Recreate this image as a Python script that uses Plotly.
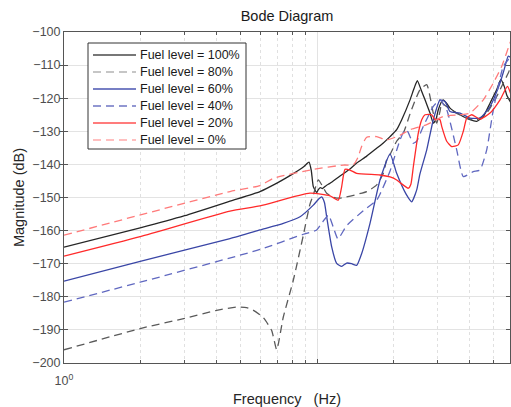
import plotly.graph_objects as go

# ---- data (frequency in Hz, magnitude in dB) ----
labels = ["Fuel level = 100%", "Fuel level = 80%", "Fuel level = 60%",
          "Fuel level = 40%", "Fuel level = 20%", "Fuel level = 0%"]

f100 = [1.0, 2.0, 3.0, 4.53, 5.95, 7.0, 8.06, 8.83, 9.30, 9.5, 9.67, 9.97, 10.12, 10.3,
        10.5, 10.92, 11.26, 12.33, 13.5, 14.35, 15.72, 17.22, 18.29, 19.44, 20.65, 21.62,
        23.32, 24.2, 24.92, 25.8, 26.73, 27.97, 28.82, 29.5, 30.16, 31.11, 31.57, 32.5,
        33.55, 36.75, 40.25, 42.77, 45.43, 48.29, 51.33, 53.3, 55.0, 56.21, 58.5]
m100 = [-165.0, -159.2, -155.5, -151.1, -148.2, -145.5, -142.8, -140.8, -139.3, -142.0,
        -146.7, -148.5, -147.6, -147.0, -147.3, -146.3, -145.7, -143.5, -141.4, -139.6,
        -137.5, -135.1, -133.5, -131.6, -129.5, -126.5, -120.5, -117.0, -114.7, -117.5,
        -120.5, -124.5, -127.5, -126.5, -123.5, -121.0, -120.5, -121.5, -123.0, -125.0,
        -126.5, -127.0, -125.5, -121.5, -117.4, -114.3, -116.5, -119.0, -121.5]

f80 = [1.0, 2.0, 3.0, 4.01, 4.82, 5.27, 5.58, 6.14, 6.62, 6.93, 7.36, 8.06, 8.83, 9.38,
       9.67, 10.12, 10.5, 10.92, 11.6, 12.33, 15.72, 17.22, 18.29, 18.86, 19.44, 20.65,
       21.94, 23.5, 25.54, 27.15, 27.97, 28.82, 29.72, 30.63, 31.11, 32.5, 34.57, 39.06,
       42.77, 46.86, 51.33, 54.5, 57.03, 58.5]
m80 = [-196.0, -189.6, -186.5, -184.1, -183.1, -183.3, -184.0, -186.3, -190.2, -196.0,
       -186.1, -175.0, -161.4, -152.0, -149.2, -144.7, -146.5, -148.7, -149.9, -150.2,
       -148.2, -146.2, -142.7, -138.6, -137.0, -133.0, -130.5, -124.0, -117.4, -115.9,
       -119.5, -124.5, -127.5, -124.0, -121.5, -122.5, -124.0, -126.0, -126.5, -124.5,
       -119.5, -115.4, -112.4, -110.0]

f60 = [1.0, 2.0, 4.53, 5.95, 7.36, 8.57, 9.67, 10.2, 10.43, 10.7, 10.92, 11.43, 11.96,
       12.52, 13.1, 13.7, 14.35, 15.02, 16.2, 17.74, 19.44, 20.65, 22.5, 23.68, 24.78,
       25.5, 27.15, 28.82, 30.63, 32.06, 33.55, 36.75, 40.25, 44.08, 48.29, 52.9, 54.84,
       57.03, 58.5]
m60 = [-175.3, -169.3, -162.4, -159.8, -157.8, -155.8, -152.3, -150.3, -149.8, -151.5,
       -155.8, -164.9, -169.9, -170.8, -169.8, -170.0, -170.5, -166.9, -157.8, -144.7,
       -136.8, -142.7, -149.0, -151.3, -147.7, -143.0, -135.6, -126.5, -120.5, -121.0,
       -124.0, -124.5, -126.0, -126.0, -122.5, -115.4, -111.5, -107.3, -107.8]

f40 = [1.0, 2.0, 5.95, 8.83, 9.97, 10.5, 11.1, 11.6, 12.1, 13.1, 15.24, 17.22, 17.74,
       19.44, 21.29, 22.28, 22.8, 24.03, 24.78, 26.32, 28.82, 30.63, 32.56, 35.66, 37.87,
       41.47, 44.08, 46.86, 49.76, 54.5, 58.5]
m40 = [-181.6, -175.6, -165.7, -161.1, -159.8, -157.5, -155.3, -159.0, -162.5, -158.5,
       -154.0, -150.8, -149.0, -142.0, -132.6, -129.5, -130.0, -133.6, -133.0, -128.5,
       -122.5, -120.5, -123.5, -135.6, -143.7, -142.2, -141.7, -135.6, -123.5, -110.4,
       -107.3]

f20 = [1.0, 2.0, 4.53, 5.95, 9.38, 11.26, 12.14, 12.5, 12.9, 13.5, 14.35, 17.74, 19.44,
       20.65, 21.29, 22.96, 23.5, 24.03, 25.15, 25.94, 26.73, 28.41, 29.27, 30.16, 30.63,
       31.11, 32.56, 34.07, 36.18, 37.87, 39.06, 40.88, 44.08, 48.29, 52.9, 56.6, 58.5]
m20 = [-167.7, -161.8, -154.1, -152.5, -148.7, -149.5, -150.8, -147.0, -141.5, -141.7,
       -142.7, -143.2, -143.8, -144.7, -145.5, -147.2, -146.0, -140.7, -130.5, -126.5,
       -125.0, -125.0, -126.5, -126.3, -126.5, -128.5, -133.0, -134.6, -134.1, -130.0,
       -126.0, -125.0, -126.3, -124.5, -120.5, -116.4, -119.0]

f0 = [1.0, 4.53, 5.95, 6.72, 9.67, 12.71, 13.92, 14.5, 15.02, 15.72, 17.22, 18.86,
      21.29, 23.32, 27.15, 31.57, 36.75, 40.25, 45.43, 49.76, 53.7, 57.92, 58.5]
m0 = [-161.4, -148.2, -146.4, -144.2, -141.5, -140.2, -140.1, -138.0, -134.5, -131.8,
      -131.6, -132.6, -131.2, -129.5, -128.0, -125.5, -125.0, -124.5, -120.5, -115.4,
      -110.4, -103.3, -102.5]

freqs = [f100, f80, f60, f40, f20, f0]
mags = [m100, m80, m60, m40, m20, m0]
colors = ["#262626", "#5a5a5a", "#3a46a6", "#6068c0", "#ff2a2a", "#ff7a7a"]
legend_colors = ["#4a4a4a", "#b4b4b4", "#4a54b0", "#6f76c4", "#ff5050", "#ffaaaa"]
dashes = ["solid", "8px,5px", "solid", "8px,5px", "solid", "8px,5px"]
# the 0% curve sits on the overlaid decade axis so that the 10 Hz grid line is drawn
xaxes = ["x", "x", "x", "x", "x", "x2"]

x_major = [1]
x_major_text = ["10<sup>0</sup>"]
x_decade_grid = [10]
x_minor = [2, 3, 4, 5, 6, 7, 8, 9, 20, 30, 40, 50]
y_ticks = list(range(-200, -99, 10))

# plot-area geometry in pixels (for the hand-drawn legend box)
W, H = 511, 407
L, R, T, B = 64, 1, 32, 44
PW, PH = W - L - R, H - T - B
XRANGE = [0, (510 - 64) / 253]


def px(xp):
    return (xp - L) / PW


def py(yp):
    return 1 - (yp - T) / PH


fig = go.Figure()
for f, m, lab, c, d, xa in zip(freqs, mags, labels, colors, dashes, xaxes):
    fig.add_trace(go.Scatter(x=f, y=m, mode="lines", name=lab, xaxis=xa, yaxis="y",
                             line=dict(color=c, width=1.3, dash=d,
                                       shape="spline", smoothing=0.5)))

# legend drawn as a MATLAB-style box
shapes = [dict(type="rect", xref="paper", yref="paper",
               x0=px(88), x1=px(246), y0=py(149), y1=py(43),
               line=dict(color="#333333", width=1), fillcolor="white", layer="above")]
annotations = []
for i, (lab, c, d) in enumerate(zip(labels, legend_colors, dashes)):
    yc = 55 + 17 * i
    shapes.append(dict(type="line", xref="paper", yref="paper",
                       x0=px(93), x1=px(136), y0=py(yc), y1=py(yc),
                       line=dict(color=c, width=1.6, dash=d), layer="above"))
    annotations.append(dict(text=lab, xref="paper", yref="paper", x=px(138), y=py(yc),
                            xanchor="left", yanchor="middle", showarrow=False,
                            font=dict(size=12.5, color="#1a1a1a")))

axis_font = dict(family="Liberation Sans, Arial, sans-serif", size=12.5, color="#4d4d4d")

fig.update_layout(
    width=W, height=H,
    margin=dict(l=L, r=R, t=T, b=B),
    paper_bgcolor="white", plot_bgcolor="white",
    font=dict(family="Liberation Sans, Arial, sans-serif", size=12, color="#262626"),
    title=dict(text="Bode Diagram", x=0.5, xref="paper", xanchor="center",
               y=1 - 16 / H, yref="container", yanchor="middle",
               font=dict(size=14.5, color="#1a1a1a")),
    showlegend=False,
    shapes=shapes,
    annotations=annotations,
    xaxis=dict(type="log", range=XRANGE,
               tickvals=x_major, ticktext=x_major_text, tickfont=axis_font,
               ticklabelstandoff=6,
               ticks="inside", ticklen=4, tickcolor="#555555",
               showline=True, linecolor="#555555", linewidth=1, mirror="allticks",
               showgrid=False,
               minor=dict(tickvals=x_minor, ticks="inside", ticklen=3, tickcolor="#555555",
                          showgrid=True, gridcolor="#e0e0e0", griddash="dot"),
               zeroline=False,
               title=dict(text="Frequency\u00a0\u00a0\u00a0(Hz)", standoff=8,
                          font=dict(size=14.5, color="#262626"))),
    xaxis2=dict(type="log", overlaying="x", anchor="y", side="bottom", range=XRANGE,
                tickvals=x_decade_grid, showticklabels=False,
                ticks="inside", ticklen=4, tickcolor="#555555",
                showline=False,
                showgrid=True, gridcolor="#e3e3e3", gridwidth=1, zeroline=False),
    yaxis=dict(range=[-200, -100], tickvals=y_ticks, tickfont=axis_font,
               ticks="inside", ticklen=4, tickcolor="#555555",
               showline=True, linecolor="#555555", linewidth=1, mirror="allticks",
               showgrid=True, gridcolor="#e3e3e3", gridwidth=1, zeroline=False,
               title=dict(text="Magnitude (dB)", standoff=4,
                          font=dict(size=14.5, color="#262626"))),
)

fig.write_html("out.html")
